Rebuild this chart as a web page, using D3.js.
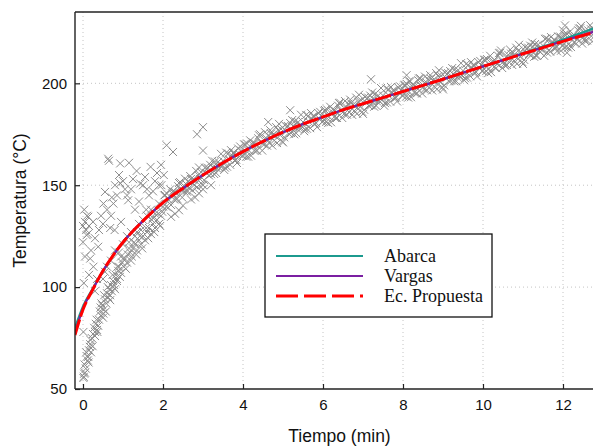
<!DOCTYPE html>
<html><head><meta charset="utf-8">
<script src="https://cdn.jsdelivr.net/npm/d3@7"></script>
<style>body{margin:0;background:#fff}svg{display:block}</style>
</head><body><svg id="c" width="593" height="447"></svg>
<script>
// ---- data ----
const xTicks = [0, 2, 4, 6, 8, 10, 12];
const yTicks = [50, 100, 150, 200];
const seriesNames = ["Abarca", "Vargas", "Ec. Propuesta"];

// measured points (min, °C)
const measTime = [
 0.02,0.05,0.04,0.1,0.12,0.15,0.18,0.2,0.22,0.25,0.28,0.32,0.36,0.4,0.42,0.45,0.48,0.52,0.55,0.58,0.6,0.63,0.66,0.7,0.72,0.75,0.78,0.82,0.85,0.88,0.9,0.95,0.98,1.02,1.05,1.1,1.12,1.18,1.22,1.25,1.3,1.35,1.4,1.45,1.5,1.55,1.6,1.65,1.7,1.75,1.8,1.85,1.9,1.95,1.98,
 0.07,0.14,0.19,0.24,0.3,0.34,0.38,0.44,0.5,0.53,0.57,0.62,0.68,0.74,0.8,0.86,0.92,1.0,1.07,1.15,1.2,1.28,1.33,1.42,1.48,1.58,1.63,1.72,1.78,1.88,1.93,
 0.5,0.6,0.7,0.8,0.9,1.0,1.1,1.2,1.3,1.4,1.5,1.6,1.7,1.8,1.9,1.15,1.45,1.75,1.35,0.95,
 0.01,0.03,0.13,0.17,0.08,0.01,0.3,0.35,0.51,0.46,0.68,0.76,0.85,0.55,0.26,0.18,0.38,0.09,0.13,0.05,0.68,0.79,0.51,0.76,0.55,0.93,0.63,0.93,1.34,1.69,1.43,1.13,1.58,2.09,2.25,1.96,
 0.02,0.05,0.0,0.08,0.15,0.2,0.1,0.3,0.35,0.45,0.6,0.7,0.85,0.95,1.05,1.2,1.25,1.5,1.55,1.65,1.8,1.85,1.95,1.3,1.0,0.9,1.15,0.65,1.75,2.02,
 0.0,0.03,0.12,0.25,0.4,0.5,0.72,0.8,1.1,1.4,1.6,1.9,0.3,0.15,
 2.2,2.4,2.6,2.8,3.0,3.2,2.3,2.5,2.7,2.9,
 3.0,2.85,3.0,4.63,5.18,7.2,8.09,8.15,12.05,11.95,12.1,12.0,
 2.0,2.1,2.2,2.3,2.4,2.5,2.6,2.7,2.8,2.9,3.0,3.1,3.2,3.3,3.4,3.5,3.6,3.7,3.8,3.9,
 4.0,4.1,4.2,4.3,4.4,4.5,4.6,4.7,4.8,4.9,5.0,5.1,5.2,5.3,5.4,5.5,5.6,5.7,5.8,5.9,
 6.0,6.1,6.2,6.3,6.4,6.5,6.6,6.7,6.8,6.9,7.0,7.1,7.2,7.3,7.4,7.5,7.6,7.7,7.8,7.9,
 8.0,8.1,8.2,8.3,8.4,8.5,8.6,8.7,8.8,8.9,9.0,9.1,9.2,9.3,9.4,9.5,9.6,9.7,9.8,9.9,
 10.0,10.1,10.2,10.3,10.4,10.5,10.6,10.7,10.8,10.9,11.0,11.1,11.2,11.3,11.4,11.5,11.6,11.7,11.8,11.9,
 12.0,12.1,12.2,12.3,12.4,12.5,12.6,12.7,12.8,
 2.05,2.15,2.25,2.35,2.45,2.55,2.65,2.75,2.85,2.95,3.05,3.15,3.25,3.35,3.45,3.55,3.65,3.75,3.85,3.95,
 4.05,4.15,4.25,4.35,4.45,4.55,4.65,4.75,4.85,4.95,5.05,5.15,5.25,5.35,5.45,5.55,5.65,5.75,5.85,5.95,
 6.05,6.15,6.25,6.35,6.45,6.55,6.65,6.75,6.85,6.95,7.05,7.15,7.25,7.35,7.45,7.55,7.65,7.75,7.85,7.95,
 8.05,8.15,8.25,8.35,8.45,8.55,8.65,8.75,8.85,8.95,9.05,9.15,9.25,9.35,9.45,9.55,9.65,9.75,9.85,9.95,
 10.05,10.15,10.25,10.35,10.45,10.55,10.65,10.75,10.85,10.95,11.05,11.15,11.25,11.35,11.45,11.55,11.65,11.75,11.85,11.95,
 12.05,12.15,12.25,12.35,12.45,12.55,12.65,12.75,
 2.03,2.13,2.23,2.33,2.43,2.53,2.63,2.73,2.83,2.93,3.03,3.13,3.23,3.33,3.43,3.53,3.63,3.73,3.83,3.93,
 4.03,4.13,4.23,4.33,4.43,4.53,4.63,4.73,4.83,4.93,5.03,5.13,5.23,5.33,5.43,5.53,5.63,5.73,5.83,5.93,
 6.03,6.13,6.23,6.33,6.43,6.53,6.63,6.73,6.83,6.93,7.03,7.13,7.23,7.33,7.43,7.53,7.63,7.73,7.83,7.93,
 8.03,8.13,8.23,8.33,8.43,8.53,8.63,8.73,8.83,8.93,9.03,9.13,9.23,9.33,9.43,9.53,9.63,9.73,9.83,9.93,
 10.03,10.13,10.23,10.33,10.43,10.53,10.63,10.73,10.83,10.93,11.03,11.13,11.23,11.33,11.43,11.53,11.63,11.73,11.83,11.93,
 12.03,12.13,12.23,12.33,12.43,12.53,12.63,12.73,
 2.08,2.18,2.28,2.38,2.48,2.58,2.68,2.78,2.88,2.98,3.08,3.18,3.28,3.38,3.48,3.58,3.68,3.78,3.88,3.98,
 4.08,4.18,4.28,4.38,4.48,4.58,4.68,4.78,4.88,4.98,5.08,5.18,5.28,5.38,5.48,5.58,5.68,5.78,5.88,5.98,
 6.08,6.18,6.28,6.38,6.48,6.58,6.68,6.78,6.88,6.98,7.08,7.18,7.28,7.38,7.48,7.58,7.68,7.78,7.88,7.98,
 8.08,8.18,8.28,8.38,8.48,8.58,8.68,8.78,8.88,8.98,9.08,9.18,9.28,9.38,9.48,9.58,9.68,9.78,9.88,9.98,
 10.08,10.18,10.28,10.38,10.48,10.58,10.68,10.78,10.88,10.98,11.08,11.18,11.28,11.38,11.48,11.58,11.68,11.78,11.88,11.98,
 12.08,12.18,12.28,12.38,12.48,12.58,12.68,12.78
];
const measTemp = [
 56,58,62,66,64,69,72,68,75,77,80,82,78,84,88,86,91,89,94,92,97,95,99,101,98,103,101,106,104,108,110,107,112,110,114,112,116,117,115,119,121,118,123,121,125,123,127,129,126,131,129,133,131,135,137,
 60,63,74,71,76,84,81,90,85,96,88,100,96,106,99,110,105,114,109,119,113,122,116,125,119,129,124,133,127,136,130,
 104,110,113,118,117,121,125,127,125,131,133,135,138,136,141,122,128,134,127,115,
 55.4,57.5,65.8,70.7,68,78,78,79,87,92,93.6,100,103,107.5,110,114,119.8,125.5,134.5,132,129,128,141,141,146.7,151,163,160.7,157,159,150.8,142.6,138,169.6,166.3,150,
 102,115,122,128,130,118,135,124,104,135,138,135,145,132,148,148,153,150,154,145,152,156,160,138,152,155,161,162,147,155,
 130,138,126,132,128,131,144,150,145,142,148,150,98,106,
 134.5,137.7,147.5,144,148,150,136,140,143,146,
 178.5,175,167,181,186.8,202,204,201,228.4,216,215,226,
 139.5,145.9,140.3,146.7,151.1,147.5,146.8,153.1,152.4,158.7,150,158.2,155.4,161.6,158.8,162,159.1,167.2,162.3,165.4,
 164.5,170.5,164.5,170.5,174.5,170.5,169.4,175.3,174.2,180.1,171,178.8,175.6,181.4,178.2,181,177.7,185.4,180.1,182.8,
 181.5,187.2,180.9,186.6,190.3,186,184.6,190.2,188.8,194.4,185,192.6,189.2,194.8,191.4,194,190.6,198.2,192.8,195.4,
 194,199.6,193.2,198.8,202.4,198,196.6,202.2,200.8,206.4,197,204.6,201.3,206.9,203.5,206.2,202.8,210.4,205.1,207.7,
 206.3,211.9,205.5,211.2,214.8,210.4,209,214.6,213.3,218.9,209.5,217.1,213.7,219.3,215.9,218.5,215.1,222.7,217.4,220,
 218.6,224.2,217.8,223.3,226.9,222.5,221,226.5,225,
 145.2,142.6,147,143.4,147.8,153.2,148.5,152.8,149.1,156.4,158.6,154.8,159,158.2,165.4,158.6,162.7,165.8,160.9,167,
 170,167,171,167,171,176,170.9,174.8,170.7,177.6,179.4,175.2,179,177.8,184.6,177.4,181.1,183.8,178.5,184.2,
 186.9,183.6,187.3,183,186.7,191.3,185.9,189.5,185.1,191.7,193.3,188.9,192.5,191.1,197.7,190.3,193.9,196.5,191.1,196.7,
 199.3,195.9,199.5,195.1,198.7,203.3,197.9,201.5,197.1,203.7,205.3,201,204.6,203.2,209.9,202.5,206.1,208.8,203.4,209,
 211.6,207.2,210.9,209.5,216.1,208.7,212.3,215,209.6,215.2,217.8,214.4,218,213.6,217.2,221.8,216.4,220.1,215.7,222.3,
 223.9,219.5,223.1,221.6,228.2,220.8,224.3,226.8,
 145,139,146,143,151.5,147,152,147.5,157,153,152.5,158.5,162,156,160,157.5,165.5,164.5,162.5,169,
 170,164,170,167,175,170,174.5,169.5,178.5,174.5,173.5,179,182,175.5,179.5,176.5,184,182.5,180.5,186,
 186.5,180.5,186,183,190.5,185,190,184.5,193,188.5,187,193,195.5,189,192.5,189,197,195.5,193,198.5,
 199,193,198.5,195,202.5,197,202,196.5,205,200.5,199,205,207.5,201,204.5,201.5,209,207.5,205.5,211,
 211.5,205,210.5,207.5,215,209.5,214,209,217.5,213,211.5,217.5,220,213.5,217,213.5,221.5,220,217.5,223,
 224,217.5,223,219.5,227,221.5,226,220.5,
 139.5,148,143,149.5,144,150.5,154.5,150,155,150.5,156,160,155.5,161.5,159.5,166,160,166,168,164.5,
 164,172,167,173,167,173,177,172,177,171.5,176.5,180.5,175,181,178.5,184.5,178,184,185.5,181,
 181,188.5,183.5,189,183,188.5,192,186.5,191,186,190.5,194,188.5,194,192,197.5,191,196.5,198,194,
 193.5,201,195.5,201.5,195,200.5,204,198.5,203.5,198,202.5,206,201,206.5,204,209.5,203.5,209,210.5,206,
 206,213.5,208,213.5,207.5,213,216.5,211,216,210.5,215,218.5,213,219,216.5,222,215.5,221.5,223,218.5,
 218,225.5,220,226,219.5,225,228.5,223
];

// fitted curves (min, °C)
const fitTime  = [-0.2,0,0.25,0.5,0.75,1,1.25,1.5,2,2.5,3,3.5,4,4.5,5,5.5,6,6.5,7,7.5,8,8.5,9,9.5,10,10.5,11,11.5,12,12.5,12.9];
const abarcaT  = [80,90.5,99.5,108,115.5,122,127.5,132.5,141.5,148.5,155,161,166.5,171.5,176,180,183.5,187,190,193,196,199,202,205.2,208.3,211.4,214.7,218,221.5,225,228];
const vargasT  = [77.5,89.5,99,108,115.5,122,127.5,132.5,141.5,148.5,155,161,166.5,171.5,176,180,183.5,187,190,193,196,199,202,205.2,208.3,211.4,214.5,217.6,220.8,223.8,226];
const propT    = [76.5,89,99,108,115.5,122,127.5,132.5,141.5,148.5,155,161,166.5,171.5,176,180,183.5,187,190,193,196,199,202,205.2,208.3,211.4,214.5,217.5,220.6,223.5,225.6];

// ---- drawing ----
const svg = d3.select("#c");
const L = 75, R = 600, T = 12, B = 389;
const x = d3.scaleLinear().domain([-0.2, 12.925]).range([L, R]);
const y = d3.scaleLinear().domain([50, 235]).range([B, T]);
const FONT = "'Liberation Sans', Arial, sans-serif";

svg.append("defs").append("clipPath").attr("id","clip")
  .append("rect").attr("x",L).attr("y",T).attr("width",R-L).attr("height",B-T);

// grid
const g = svg.append("g");
g.selectAll(".vg").data(xTicks).join("line")
  .attr("x1",d=>x(d)).attr("x2",d=>x(d)).attr("y1",T).attr("y2",B)
  .attr("stroke","#c4c4c4").attr("stroke-width",1).attr("stroke-dasharray","1,3");
g.selectAll(".hg").data(yTicks.slice(1)).join("line")
  .attr("x1",L).attr("x2",R).attr("y1",d=>y(d)).attr("y2",d=>y(d))
  .attr("stroke","#c4c4c4").attr("stroke-width",1).attr("stroke-dasharray","1,3");

// scatter
const pts = measTime.map((t,i)=>[t, measTemp[i]]);
const s = 4;
const sc = svg.append("g").attr("clip-path","url(#clip)");
sc.selectAll("path.m").data(pts).join("path")
  .attr("d", d => {
    const px = x(d[0]), py = y(d[1]);
    return `M${px-s},${py-s}L${px+s},${py+s}M${px-s},${py+s}L${px+s},${py-s}`;
  })
  .attr("stroke","#8c8c8c").attr("stroke-width",1).attr("fill","none");

// curves
const line = arr => d3.line().curve(d3.curveMonotoneX).x((d,i)=>x(fitTime[i])).y(d=>y(d))(arr);
const cg = svg.append("g").attr("clip-path","url(#clip)");
const colors = ["#1c9a8e", "#7b1fa2", "#ff0000"];
cg.append("path").attr("d", line(abarcaT)).attr("fill","none").attr("stroke",colors[0]).attr("stroke-width",2.2);
cg.append("path").attr("d", line(vargasT)).attr("fill","none").attr("stroke",colors[1]).attr("stroke-width",2.2);
cg.append("path").attr("d", line(propT)).attr("fill","none").attr("stroke",colors[2]).attr("stroke-width",3).attr("stroke-dasharray","16,3");

// axes
const ax = svg.append("g").attr("transform",`translate(0,${B})`)
  .call(d3.axisBottom(x).tickValues(xTicks).tickSize(-5).tickPadding(10).tickFormat(d3.format("d")));
const ay = svg.append("g").attr("transform",`translate(${L},0)`)
  .call(d3.axisLeft(y).tickValues(yTicks).tickSize(-5).tickPadding(8).tickFormat(d3.format("d")));
[ax, ay].forEach(a => {
  a.select(".domain").attr("stroke","#222").attr("stroke-width",1.4);
  a.selectAll(".tick line").attr("stroke","#222").attr("stroke-width",1.2);
  a.selectAll(".tick text").attr("font-family",FONT).attr("font-size",15).attr("fill","#111");
});
ay.select(".domain").attr("d", `M0,${B}V${T}`);
ax.select(".domain").attr("d", `M${L},0H${R}`);
svg.append("line").attr("x1",L).attr("x2",R).attr("y1",T).attr("y2",T).attr("stroke","#222").attr("stroke-width",1.4);

// axis titles
svg.append("text").attr("x",(L+R)/2+2).attr("y",442).attr("text-anchor","middle")
  .attr("font-family",FONT).attr("font-size",17.5).attr("fill","#111").text("Tiempo (min)");
svg.append("text").attr("transform",`translate(26,${(T+B)/2}) rotate(-90)`).attr("text-anchor","middle")
  .attr("font-family",FONT).attr("font-size",17.5).attr("fill","#111").text("Temperatura (°C)");

// legend
const lg = svg.append("g");
lg.append("rect").attr("x",265).attr("y",234).attr("width",227).attr("height",83)
  .attr("fill","#fff").attr("stroke","#111").attr("stroke-width",1.3);
const ly = [256, 276, 296];
seriesNames.forEach((n,i) => {
  lg.append("line").attr("x1",276).attr("x2",363).attr("y1",ly[i]).attr("y2",ly[i])
    .attr("stroke",colors[i]).attr("stroke-width", i===2 ? 3 : 2.2)
    .attr("stroke-dasharray", i===2 ? "22,6" : null);
  lg.append("text").attr("x",384).attr("y",ly[i]+6).attr("font-family","'Liberation Serif', 'Times New Roman', serif")
    .attr("font-size",18).attr("fill","#111").text(n);
});
</script></body></html>
